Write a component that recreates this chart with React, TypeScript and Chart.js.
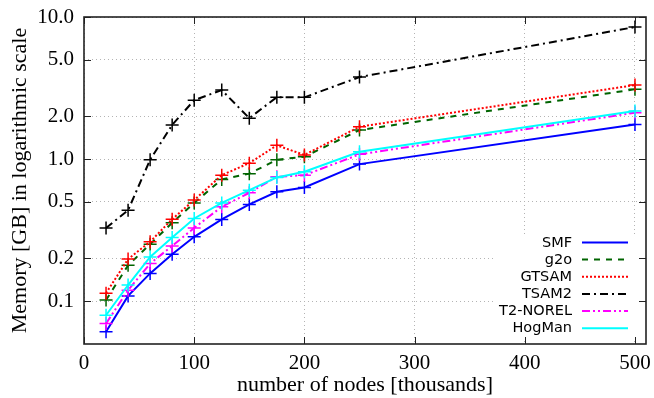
import React, { useEffect, useRef } from "react";
import { Chart, registerables } from "chart.js";

Chart.register(...registerables);

const nodes = [20, 40, 60, 80, 100, 125, 150, 175, 200, 250, 500];
const smf = [0.061, 0.109, 0.157, 0.214, 0.284, 0.376, 0.48, 0.589, 0.632, 0.922, 1.75];
const g2o = [0.102, 0.179, 0.252, 0.356, 0.492, 0.72, 0.79, 0.99, 1.04, 1.6, 3.1];
const gtsam = [0.114, 0.198, 0.262, 0.378, 0.515, 0.771, 0.937, 1.25, 1.07, 1.69, 3.32];
const tsam2 = [0.327, 0.437, 0.99, 1.74, 2.6, 3.06, 1.94, 2.73, 2.72, 3.78, 8.5];
const t2norel = [0.0697, 0.1196, 0.184, 0.245, 0.328, 0.462, 0.579, 0.751, 0.771, 1.08, 2.12];
const hogman = [0.0797, 0.13, 0.205, 0.281, 0.382, 0.492, 0.605, 0.743, 0.814, 1.125, 2.18];

const seriesNames = ["SMF", "g2o", "GTSAM", "TSAM2", "T2-NOREL", "HogMan"];
const seriesValues = [smf, g2o, gtsam, tsam2, t2norel, hogman];
const seriesColors = ["#0000ff", "#006400", "#ff0000", "#000000", "#ff00ff", "#00ffff"];
const seriesDashes: number[][] = [[], [6, 6], [2, 2], [8, 4, 2, 4], [8, 3, 2, 3, 2, 3]];
seriesDashes.push([]);

const yTicks = [0.1, 0.2, 0.5, 1, 2, 5, 10];
const xTicks = [0, 100, 200, 300, 400, 500];

const serif = "'Liberation Serif', 'Times New Roman', serif";
const sans = "'DejaVu Sans', sans-serif";

const framePlugin = {
  id: "frame",
  afterDatasetsDraw(chart: any) {
    const { ctx, chartArea: a, scales } = chart;
    ctx.save();
    ctx.fillStyle = "#ffffff";
    ctx.fillRect(495, 234, 146, 105);
    ctx.strokeStyle = "#222";
    ctx.lineWidth = 1;
    ctx.setLineDash([]);
    const tl = 7;
    xTicks.forEach((v) => {
      const x = Math.round(scales.x.getPixelForValue(v)) + 0.5;
      ctx.beginPath();
      ctx.moveTo(x, a.bottom);
      ctx.lineTo(x, a.bottom - tl);
      ctx.moveTo(x, a.top);
      ctx.lineTo(x, a.top + tl);
      ctx.stroke();
    });
    yTicks.forEach((v) => {
      const y = Math.round(scales.y.getPixelForValue(v)) + 0.5;
      ctx.beginPath();
      ctx.moveTo(a.left, y);
      ctx.lineTo(a.left + tl, y);
      ctx.moveTo(a.right, y);
      ctx.lineTo(a.right - tl, y);
      ctx.stroke();
    });
    ctx.strokeStyle = "#222";
    ctx.lineWidth = 1.6;
    ctx.strokeRect(a.left, a.top, a.right - a.left, a.bottom - a.top);
    ctx.font = "14.5px " + sans;
    ctx.textAlign = "right";
    ctx.textBaseline = "middle";
    const rows = [242.5, 259.5, 276.7, 293.9, 311, 328.2];
    seriesNames.forEach((name, i) => {
      const y = rows[i];
      ctx.fillStyle = "#000";
      ctx.fillText(name, 572, y + 0.5);
      ctx.strokeStyle = seriesColors[i];
      ctx.lineWidth = 2;
      ctx.setLineDash(seriesDashes[i]);
      ctx.beginPath();
      ctx.moveTo(582, y);
      ctx.lineTo(628, y);
      ctx.stroke();
    });
    ctx.restore();
  },
};

export default function App() {
  const ref = useRef<HTMLCanvasElement | null>(null);
  useEffect(() => {
    if (!ref.current) return;
    const datasets = seriesNames.map((name, i) => ({
      label: name,
      data: nodes.map((x, j) => ({ x, y: seriesValues[i][j] })),
      borderColor: seriesColors[i],
      backgroundColor: seriesColors[i],
      borderWidth: 2,
      borderDash: seriesDashes[i],
      pointStyle: "cross",
      pointRadius: 6.5,
      pointBorderWidth: 1.5,
      pointBorderColor: seriesColors[i],
      fill: false,
      tension: 0,
      order: seriesNames.length - i,
    }));
    const chart = new Chart(ref.current, {
      type: "line",
      data: { datasets },
      plugins: [framePlugin],
      options: {
        animation: false,
        responsive: false,
        devicePixelRatio: 1,
        layout: { padding: { top: 17, right: 7, left: 0, bottom: 0 } },
        plugins: { legend: { display: false }, tooltip: { enabled: false } },
        scales: {
          x: {
            type: "linear",
            min: 0,
            max: 510,
            afterFit: (s: any) => {
              s.height = 54;
              s.paddingLeft = 0;
              s.paddingRight = 0;
            },
            afterBuildTicks: (s: any) => {
              s.ticks = xTicks.map((v) => ({ value: v }));
            },
            ticks: {
              color: "#000",
              font: { family: serif, size: 21 },
              padding: 7,
              maxRotation: 0,
              autoSkip: false,
            },
            grid: { color: "#b4b4b4", drawTicks: false, lineWidth: 1 },
            border: { display: false, dash: [1, 3] },
            title: {
              display: true,
              text: "number of nodes [thousands]",
              color: "#000",
              font: { family: serif, size: 22 },
              padding: { top: 0, bottom: 0 },
            },
          },
          y: {
            type: "logarithmic",
            min: 0.05,
            max: 10,
            afterFit: (s: any) => {
              s.width = 84;
              s.paddingTop = 0;
              s.paddingBottom = 0;
            },
            afterBuildTicks: (s: any) => {
              s.ticks = yTicks.map((v) => ({ value: v }));
            },
            ticks: {
              color: "#000",
              font: { family: serif, size: 21 },
              padding: 10,
              autoSkip: false,
              callback: (v: any) => Number(v).toFixed(1),
            },
            grid: { color: "#b4b4b4", drawTicks: false, lineWidth: 1 },
            border: { display: false, dash: [1, 3] },
            title: {
              display: true,
              text: "Memory [GB] in logarithmic scale",
              color: "#000",
              font: { family: serif, size: 22 },
              padding: { top: 7, bottom: 0 },
            },
          },
        },
      } as any,
    });
    return () => chart.destroy();
  }, []);
  return (
    <div style={{ position: "absolute", left: 0, top: 0, width: 654, height: 398, background: "#fff" }}>
      <canvas ref={ref} width={654} height={398} />
    </div>
  );
}
